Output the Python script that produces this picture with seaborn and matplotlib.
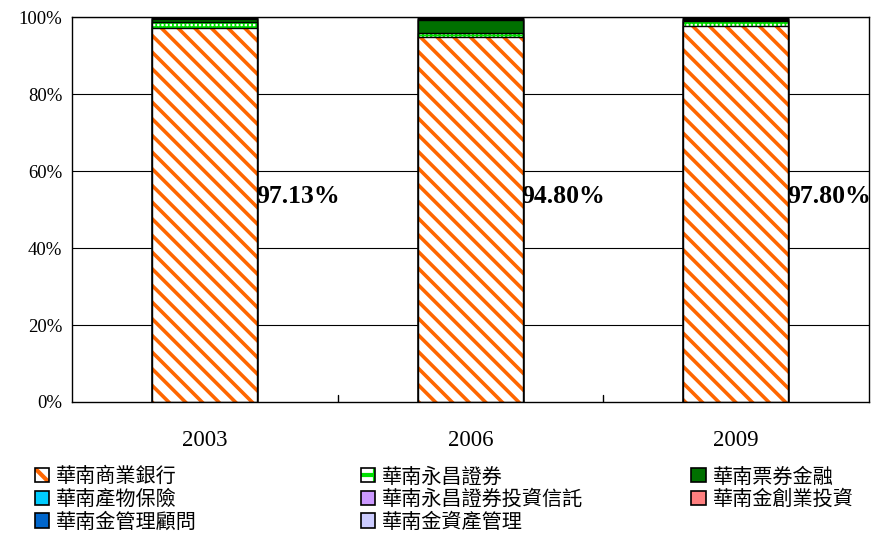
import numpy as np
import pandas as pd
import matplotlib
matplotlib.use("Agg")
import matplotlib.pyplot as plt
import seaborn as sns
from matplotlib.patches import Patch
from matplotlib.legend_handler import HandlerTuple

# ---- data (percent of total) ----
years = ["2003", "2006", "2009"]
bank = [97.13, 94.80, 97.80]          # 華南商業銀行
securities = [1.50, 1.10, 1.30]       # 華南永昌證券
bills = [1.00, 3.30, 0.20]            # 華南票券金融
insurance = [0.15, 0.30, 0.25]        # 華南產物保險
trust = [0.10, 0.20, 0.15]            # 華南永昌證券投資信託
venture = [0.05, 0.15, 0.10]          # 華南金創業投資
consulting = [0.04, 0.10, 0.15]       # 華南金管理顧問
asset = [0.03, 0.05, 0.05]            # 華南金資產管理
bank_labels = ["97.13%", "94.80%", "97.80%"]

series_names = ["華南商業銀行", "華南永昌證券", "華南票券金融", "華南產物保險",
                "華南永昌證券投資信託", "華南金創業投資", "華南金管理顧問", "華南金資產管理"]
series_vals = [bank, securities, bills, insurance, trust, venture, consulting, asset]

sns.set_theme(style="white")
plt.rcParams["font.family"] = ["Liberation Serif", "Noto Sans CJK TC", "DejaVu Sans"]
plt.rcParams.update({"text.color": "black", "xtick.color": "black",
                     "ytick.color": "black", "axes.labelcolor": "black"})

styles = [
    dict(facecolor="white", edgecolor="#FF6600", hatch="\\\\"),
    dict(facecolor="white", edgecolor="#00E000", hatch="++++"),
    dict(facecolor="#007000", edgecolor="black", hatch=None),
    dict(facecolor="#00CCFF", edgecolor="black", hatch=None),
    dict(facecolor="#CC99FF", edgecolor="black", hatch=None),
    dict(facecolor="#FF8080", edgecolor="black", hatch=None),
    dict(facecolor="#0066CC", edgecolor="black", hatch=None),
    dict(facecolor="#CCCCFF", edgecolor="black", hatch=None),
]

fig = plt.figure(figsize=(8.73, 5.36), dpi=100)
ax = fig.add_axes([0.0825, 0.25, 0.9125, 0.718])

vals = np.array(series_vals)
cum = np.cumsum(vals, axis=0)
W = 0.395

# draw from top segment downward so lower segments overlay upper cumulative bars
for i in range(len(series_names) - 1, -1, -1):
    df = pd.DataFrame({"year": years, "value": cum[i]})
    st = styles[i]
    hatch_lw = 2.6 if i == 0 else 1.3
    with plt.rc_context({"hatch.linewidth": hatch_lw}):
        if st["hatch"]:
            sns.barplot(data=df, x="year", y="value", order=years, ax=ax, width=W,
                        color=st["facecolor"], edgecolor=st["edgecolor"], hatch=st["hatch"],
                        linewidth=0, saturation=1, errorbar=None)
            sns.barplot(data=df, x="year", y="value", order=years, ax=ax, width=W,
                        fill=False, edgecolor="black", linewidth=1.0, errorbar=None)
        else:
            sns.barplot(data=df, x="year", y="value", order=years, ax=ax, width=W,
                        color=st["facecolor"], edgecolor="black", linewidth=1.0,
                        saturation=1, errorbar=None)

ax.set_ylim(0, 100)
ax.set_xlim(-0.5, 2.5)
ax.set_yticks(np.arange(0, 101, 20))
ax.set_yticklabels([f"{v}%" for v in range(0, 101, 20)], fontsize=13.5)
ax.set_xticks(range(3))
ax.set_xticklabels(years, fontsize=16.5)
ax.tick_params(axis="x", length=0, pad=20)
ax.tick_params(axis="y", length=0, pad=7)
ax.set_xlabel("")
ax.set_ylabel("")
for y in range(20, 101, 20):
    ax.axhline(y, color="black", lw=0.8, zorder=0)
for xb in [0.5, 1.5]:
    ax.plot([xb, xb], [0, 1.8], color="black", lw=1.0, zorder=0)
for sp in ax.spines.values():
    sp.set_color("black")
    sp.set_linewidth(1.0)
    sp.set_visible(True)
ax.set_axisbelow(True)

for i, lab in enumerate(bank_labels):
    ax.text(i + W / 2 - 0.004, 53.5, lab, ha="left", va="center", fontsize=18.5,
            fontweight="bold", family="Liberation Serif", color="black", zorder=10)

# legend handles
handles = []
for i in range(len(series_names)):
    st = styles[i]
    if st["hatch"]:
        h_hatch = "\\" if i == 0 else "+"
        handles.append((Patch(facecolor="white", edgecolor=st["edgecolor"], hatch=h_hatch,
                              linewidth=0),
                        Patch(facecolor="none", edgecolor="black", linewidth=1.2)))
    else:
        handles.append(Patch(facecolor=st["facecolor"], edgecolor="black", linewidth=1.2))

columns = [[0, 3, 6], [1, 4, 7], [2, 5]]
col_x = [0.040, 0.413, 0.792]
for cx, idxs in zip(col_x, columns):
    with plt.rc_context({"hatch.linewidth": 3.0}):
        leg = fig.legend([handles[k] for k in idxs], [series_names[k] for k in idxs],
                         loc="upper left", bbox_to_anchor=(cx, 0.130),
                         frameon=False, handlelength=0.7, handleheight=0.7,
                         handletextpad=0.35, labelspacing=0.08, borderpad=0, borderaxespad=0,
                         handler_map={tuple: HandlerTuple(ndivide=1, pad=0)},
                         prop={"family": ["Noto Sans CJK TC", "DejaVu Sans"], "size": 14.5})

fig.savefig("out.png", dpi=100, facecolor="white")
